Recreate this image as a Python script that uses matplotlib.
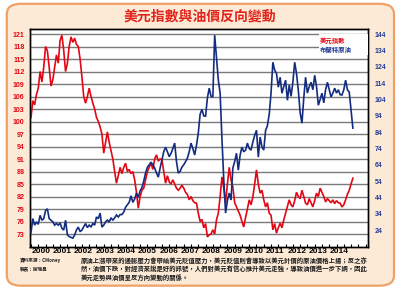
import matplotlib
matplotlib.use("Agg")
import matplotlib.pyplot as plt
from matplotlib.patches import FancyBboxPatch, Rectangle
import numpy as np

# ---------------- data ----------------
title = "美元指數與油價反向變動"
series_names = ["美元指數", "布蘭特原油"]
start_year = 2000  # monthly data, Jan 2000 .. Oct 2014

usd_index = [
    101, 105, 104, 106.5, 108, 112, 109.5, 113, 118, 117, 113, 108.5,
    110, 113, 116, 114, 119.5, 120.7, 117, 112, 114, 118, 120.3, 119,
    120, 118.5, 118, 115, 110.7, 106, 104.4, 106, 108, 106, 104.4, 103,
    101, 100, 98.7, 97, 92.4, 95, 97.5, 95, 93, 91, 88, 85.2,
    87, 89, 87.5, 89, 90, 88, 88.5, 87.5, 88, 86, 83, 79.2,
    82, 83.5, 84, 86, 88, 89, 90, 88.5, 91, 92, 90.5, 91,
    90.8, 88, 85.2, 87, 85.5, 85, 86, 85, 84, 83.5, 84, 84.7,
    84, 83, 82.5, 81.2, 82, 81, 80.5, 80.4, 78, 76, 76.5, 74.5,
    75.5, 72.3, 72.8, 73, 74, 73, 76.4, 78, 81.9, 86.7, 84, 80.4,
    85, 89, 86, 84.3, 80.5, 79.5, 78.5, 77.5, 76, 74.7, 77, 79,
    81.2, 80, 81.9, 85, 88.4, 85, 82.8, 83.5, 81.2, 79.5, 80.5, 78,
    77.5, 74, 75.5, 73.2, 74.5, 75.6, 74.5, 76.4, 78, 79.5, 81.2, 80,
    79.5, 81, 83, 82, 81.5, 83.5, 82, 80.4, 80, 81.5, 80.5, 79.5,
    81, 82.8, 82, 84, 83, 82, 80.7, 81.5, 81, 80.5, 81.2, 80.3,
    81, 80.5, 80.4, 79.5, 80, 81.2, 82.5, 83.5, 85, 86.4,
]

brent_oil = [
    22.5, 31, 27, 29, 27.5, 33, 30, 31, 36, 37, 31, 30,
    29, 27, 28, 27, 28.3, 25, 24, 30, 21, 20, 19.5, 19,
    21, 24, 25.8, 23, 24, 26, 28, 25.5, 27, 26, 28, 27,
    32, 31, 34.4, 25.8, 27, 29, 30.1, 29, 31.5, 30, 31.5, 33.2,
    32, 33.5, 33.5, 35, 38, 39.5, 41, 45, 41, 43, 46.7, 44,
    48, 50, 54, 59, 62.5, 64, 65.6, 64, 62, 59, 56.4, 62,
    67, 72, 74.8, 72, 69, 71, 74, 77.3, 66, 58.9, 60, 62.6,
    64, 66, 68, 72, 77.3, 74, 70, 76, 83.5, 95, 98, 94,
    93.8, 105, 111, 106, 105.6, 143.5, 130, 116, 108, 80, 55, 34.4,
    42, 46.7, 42.4, 62, 66, 71.1, 60.7, 70, 74.8, 72, 73, 77.3,
    74, 73, 78, 82, 85.2, 68.7, 81, 75, 73, 85, 88, 95,
    108, 126.9, 122, 120, 111.6, 117.7, 107.9, 112, 115.9, 103.6, 113, 106,
    114.5, 126.9, 120, 109.7, 96, 89.5, 105, 117.7, 108, 112, 114.6, 110,
    118.9, 112, 100.5, 104, 107.9, 102, 110, 114.6, 110, 105.6, 108, 111,
    108, 110, 107, 106.8, 110, 115.9, 110, 108.6, 97.5, 86.5,
]

left_ticks = list(range(73, 122, 3))
right_ticks = list(range(24, 145, 10))
year_labels = [str(y) for y in range(2000, 2015)]

source_lines = ["資料來源：CMoney", "製表：謝瑞昌"]
note_lines = [
    "原油上漲帶來的通膨壓力會帶給美元貶值壓力，美元貶值則會導致以美元計價的原油價格上揚；反之亦",
    "然，油價下跌，對經濟來說是好的訊號，人們對美元有信心推升美元走強，導致油價進一步下調，因此",
    "美元走勢與油價呈反方向變動的關係。",
]

# ---------------- style ----------------
RED = "#E30613"
BLUE = "#142C80"
TITLE_RED = "#E2231A"
CJK = ["Noto Sans CJK TC", "DejaVu Sans"]
NUM = ["Liberation Sans", "DejaVu Sans"]

x = start_year + np.arange(len(usd_index)) / 12.0

fig = plt.figure(figsize=(4.0, 2.93), dpi=100)
fig.patch.set_facecolor("white")

box = FancyBboxPatch((0.017, 0.025), 0.968, 0.962,
                     boxstyle="round,pad=0,rounding_size=0.035",
                     transform=fig.transFigure, facecolor="#FCEAD7",
                     edgecolor="#EFA166", linewidth=1.6, zorder=-10)
fig.patches.append(box)

fig.text(0.5, 0.942, title, ha="center", va="center", color=TITLE_RED,
         fontsize=10, fontweight="bold", family=CJK)

ax = fig.add_axes([0.075, 0.1587, 0.844, 0.743])
ax.set_facecolor("white")
ax2 = ax.twinx()

ax.plot(x, usd_index, color=RED, lw=1.2, zorder=3, solid_joinstyle="miter")
ax2.plot(x, brent_oil, color=BLUE, lw=1.2, zorder=3, solid_joinstyle="miter")

ax.set_xlim(1999.954, 2015.425)
ax.set_ylim(70.0, 122.25)
ax2.set_ylim(13.9, 147.4)

ax.set_yticks(left_ticks)
ax.set_yticklabels([str(v) for v in left_ticks])
ax.yaxis.grid(True, color="#7A7A7A", lw=1.0)
ax.set_axisbelow(True)
ax.tick_params(axis="y", length=0, pad=4, labelsize=5, labelcolor=RED)
for t in ax.get_yticklabels():
    t.set_fontweight("bold"); t.set_family(NUM)

ax2.set_yticks(right_ticks)
ax2.set_yticklabels([str(v) for v in right_ticks])
ax2.tick_params(axis="y", length=0, pad=5, labelsize=5, labelcolor="#243C96")
for t in ax2.get_yticklabels():
    t.set_fontweight("bold"); t.set_family(NUM)

label_pos = [2000.45 + 0.977 * k for k in range(len(year_labels))]
ax.set_xticks(label_pos)
ax.set_xticklabels(year_labels)
ax.set_xticks(np.arange(2000, 2015.4, 1 / 3.0), minor=True)
ax.tick_params(axis="x", which="major", length=0, pad=1.0, labelsize=6)
ax.tick_params(axis="x", which="minor", direction="in", length=2.5,
               width=0.8, color="black")
for t in ax.get_xticklabels():
    t.set_fontweight("bold"); t.set_family(NUM)

for a in (ax, ax2):
    for s in a.spines.values():
        s.set_color("black"); s.set_linewidth(1.0)

# legend (text only, white background)
leg_bg = Rectangle((0.855, 0.88), 0.145, 0.095, transform=ax2.transAxes,
                   facecolor="white", edgecolor="none", zorder=4)
ax2.add_patch(leg_bg)
ax2.text(0.858, 0.948, series_names[0], transform=ax2.transAxes, color=RED,
         fontsize=4.6, fontweight="bold", family=CJK, va="center", zorder=5)
ax2.text(0.858, 0.905, series_names[1], transform=ax2.transAxes, color="#1F3A93",
         fontsize=4.6, fontweight="bold", family=CJK, va="center", zorder=5)

# source and notes
fig.text(0.05, 0.110, source_lines[0], fontsize=3.3, fontweight="bold",
         family=CJK, va="center", color="#222222")
fig.text(0.05, 0.084, source_lines[1], fontsize=3.3, fontweight="bold",
         family=CJK, va="center", color="#222222")
for k, line in enumerate(note_lines):
    fig.text(0.203, 0.112 - k * 0.03, line, fontsize=4.55, fontweight="bold",
             family=CJK, va="center", color="#1A1A1A")

fig.savefig("out.png", dpi=100, facecolor="white")
